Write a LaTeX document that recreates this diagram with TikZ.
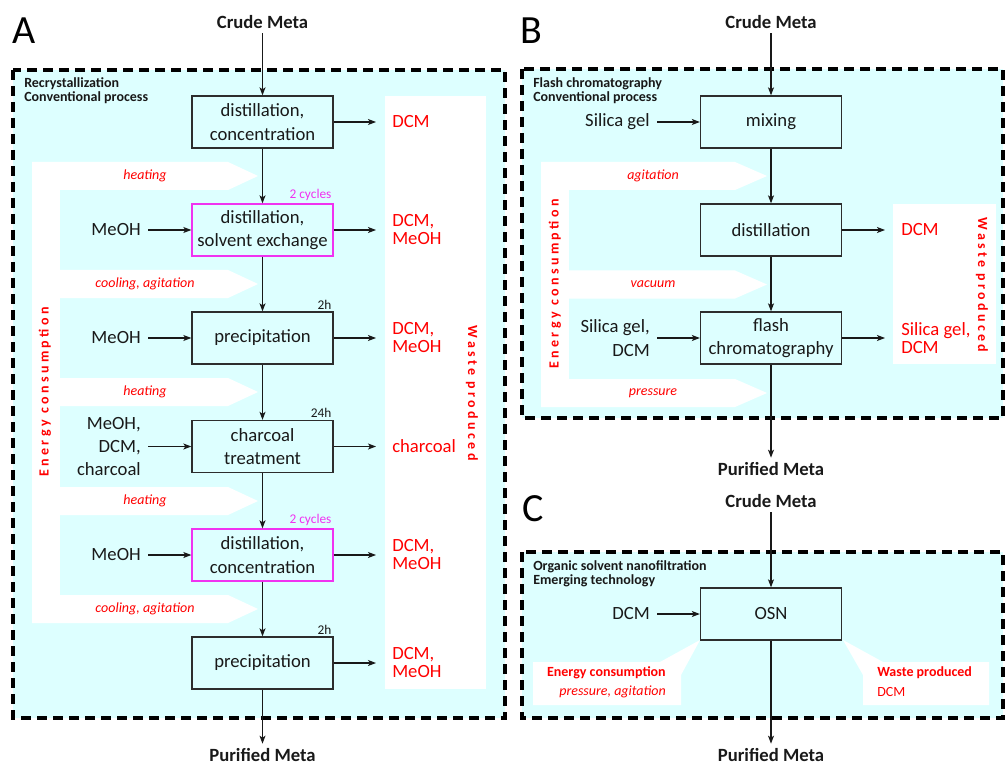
\documentclass[tikz,border=0pt]{standalone}
\usepackage{fontspec}
\setmainfont{Carlito}
\newfontfamily\spacedfont[LetterSpace=24]{Carlito}
\usetikzlibrary{arrows.meta}
\definecolor{panelfill}{RGB}{221,255,255}
\definecolor{boxline}{RGB}{45,45,45}
\definecolor{cyclepink}{RGB}{240,50,240}
\definecolor{wastered}{RGB}{255,0,0}
\definecolor{ink}{RGB}{25,25,25}

\begin{document}
\begin{tikzpicture}[x=0.75pt,y=-0.75pt,
  >={Stealth[length=6pt,width=4.5pt,inset=1.5pt]},
  flow/.style={->,line width=0.8pt,ink},
  panel/.style={draw=black,fill=panelfill,line width=2.4pt,dash pattern=on 7.5pt off 4.5pt},
  stepbox/.style={draw=boxline,fill=panelfill,line width=1pt,minimum width=105.75pt,minimum height=39pt,inner sep=0pt,align=center,text=ink,font=\fontsize{14}{17.5}\selectfont},
  cyclebox/.style={stepbox,draw=cyclepink},
  feed/.style={anchor=east,inner xsep=5.25pt,align=right,text=ink,font=\fontsize{14}{17.5}\selectfont},
  waste/.style={anchor=west,inner xsep=12pt,align=left,text=wastered,font=\fontsize{14}{13.5}\selectfont},
  endpoint/.style={text=ink,font=\bfseries\fontsize{14}{17}\selectfont},
  title/.style={anchor=west,align=left,inner sep=0pt,text=ink,font=\bfseries\fontsize{10.5}{10.5}\selectfont},
  duty/.style={text=wastered,font=\itshape\fontsize{10.5}{12}\selectfont},
  note/.style={anchor=south east,inner sep=1.5pt,text=ink,font=\fontsize{10}{12}\selectfont},
  cyclenote/.style={note,text=cyclepink},
  vlabel/.style={text=wastered,font=\spacedfont\bfseries\fontsize{10.5}{12}\selectfont},
  letter/.style={text=black,font=\fontsize{30}{30}\selectfont},
  calloutbold/.style={text=wastered,inner sep=0pt,font=\bfseries\fontsize{10.5}{12}\selectfont},
  callouttext/.style={text=wastered,inner sep=0pt,font=\fontsize{10.5}{12}\selectfont},
]
\useasboundingbox (0,0) rectangle (1005,766);

% ---------- panel frames ----------
\draw[panel] (13,70) rectangle (505,718);
\draw[panel] (522,69) rectangle (1003,418);
\draw[panel] (522,552) rectangle (1003,718);

% ---------- panel letters and titles ----------
\node[letter] (letA) at (24,31) {A};
\node[letter] (letB) at (531,31) {B};
\node[letter] (letC) at (533,509) {C};
\node[title] (titA) at (24,91) {Recrystallization\\Conventional process};
\node[title] (titB) at (533,91) {Flash chromatography\\Conventional process};
\node[title] (titC) at (533,574) {Organic solvent nanofiltration\\Emerging technology};

% ---------- panel A: energy band and waste column ----------
\fill[white] (32,162) rectangle (60,623);
\foreach \m in {176,284,392,501,609}
  \fill[white] (32,\m-14) -- (228,\m-14) -- (258,\m) -- (228,\m+14) -- (32,\m+14) -- cycle;
\fill[white] (385,96) rectangle (486,689);
\node[vlabel,rotate=90] (energyA) at (45,392) {Energy consumption};
\node[vlabel,rotate=-90] (wasteA) at (472,393) {Waste produced};
\node[duty] (dA1) at (145,176) {heating};
\node[duty] (dA2) at (145,284) {cooling, agitation};
\node[duty] (dA3) at (145,392) {heating};
\node[duty] (dA4) at (145,501) {heating};
\node[duty] (dA5) at (145,609) {cooling, agitation};

% ---------- panel A: process steps ----------
\node[endpoint] (crudeA) at (262.5,22) {Crude Meta};
\node[stepbox] (a1) at (262.5,122) {distillation,\\concentration};
\node[cyclebox] (a2) at (262.5,230) {distillation,\\solvent exchange};
\node[stepbox] (a3) at (262.5,338) {precipitation};
\node[stepbox] (a4) at (262.5,446.5) {charcoal\\treatment};
\node[cyclebox] (a5) at (262.5,555) {distillation,\\concentration};
\node[stepbox] (a6) at (262.5,663) {precipitation};
\node[endpoint] (purA) at (262.5,755) {Purified Meta};

\node[cyclenote] (cyc2) at (a2.north east) {2 cycles};
\node[note] (t3) at (a3.north east) {2h};
\node[note] (t4) at (a4.north east) {24h};
\node[cyclenote] (cyc5) at (a5.north east) {2 cycles};
\node[note] (t6) at (a6.north east) {2h};

\node[feed] (inA2) at (148,230) {MeOH};
\node[feed] (inA3) at (148,338) {MeOH};
\node[feed] (inA4) at (148,446.5) {MeOH,\\DCM,\\charcoal};
\node[feed] (inA5) at (148,555) {MeOH};

\node[waste] (outA1) at (376,122) {DCM};
\node[waste] (outA2) at (376,230) {DCM,\\MeOH};
\node[waste] (outA3) at (376,338) {DCM,\\MeOH};
\node[waste] (outA4) at (376,446.5) {charcoal};
\node[waste] (outA5) at (376,555) {DCM,\\MeOH};
\node[waste] (outA6) at (376,663) {DCM,\\MeOH};

\draw[flow] (crudeA) -- (a1);
\draw[flow] (a1) -- (a2);
\draw[flow] (a2) -- (a3);
\draw[flow] (a3) -- (a4);
\draw[flow] (a4) -- (a5);
\draw[flow] (a5) -- (a6);
\draw[flow] (a6) -- (purA);
\foreach \s in {2,3,4,5} \draw[flow] (inA\s) -- (a\s);
\foreach \s in {1,...,6} \draw[flow] (a\s) -- (outA\s);

% ---------- panel B: energy band and waste column ----------
\fill[white] (541,162) rectangle (569,407);
\foreach \m in {176,284.5,393}
  \fill[white] (541,\m-14) -- (735,\m-14) -- (767,\m) -- (735,\m+14) -- (541,\m+14) -- cycle;
\fill[white] (893,204) rectangle (996,364);
\node[vlabel,rotate=90] (energyB) at (555,284) {Energy consumption};
\node[vlabel,rotate=-90] (wasteB) at (982,285) {Waste produced};
\node[duty] (dB1) at (653,176) {agitation};
\node[duty] (dB2) at (653,284.5) {vacuum};
\node[duty] (dB3) at (653,393) {pressure};

% ---------- panel B: process steps ----------
\node[endpoint] (crudeB) at (771,22) {Crude Meta};
\node[stepbox] (b1) at (771,122) {mixing};
\node[stepbox] (b2) at (771,230) {distillation};
\node[stepbox] (b3) at (771,338) {flash\\chromatography};
\node[endpoint] (purB) at (771,469) {Purified Meta};

\node[feed] (inB1) at (657,122) {Silica gel};
\node[feed] (inB3) at (657,338) {Silica gel,\\DCM};
\node[waste] (outB2) at (885,230) {DCM};
\node[waste] (outB3) at (885,338) {Silica gel,\\DCM};

\draw[flow] (crudeB) -- (b1);
\draw[flow] (b1) -- (b2);
\draw[flow] (b2) -- (b3);
\draw[flow] (b3) -- (purB);
\draw[flow] (inB1) -- (b1);
\draw[flow] (inB3) -- (b3);
\draw[flow] (b2) -- (outB2);
\draw[flow] (b3) -- (outB3);

% ---------- panel C ----------
\fill[white] (533,662) -- (660,662) -- (700,640) -- (681,675) -- (681,705) -- (533,705) -- cycle;
\fill[white] (863,705) -- (863,675) -- (843,640) -- (883,662) -- (989,662) -- (989,705) -- cycle;

\node[endpoint] (crudeC) at (771,501) {Crude Meta};
\node[stepbox] (c1) at (771,614) {OSN};
\node[endpoint] (purC) at (771,755) {Purified Meta};
\node[feed] (inC1) at (657,614) {DCM};

\node[calloutbold,anchor=east] (enC) at (666,673) {Energy consumption};
\node[duty,inner sep=0pt,anchor=east] (enCd) at (666,692) {pressure, agitation};
\node[calloutbold,anchor=west] (waC) at (877,673) {Waste produced};
\node[callouttext,anchor=west] (waCd) at (877,692) {DCM};

\draw[flow] (crudeC) -- (c1);
\draw[flow] (c1) -- (purC);
\draw[flow] (inC1) -- (c1);
\end{tikzpicture}
\end{document}
